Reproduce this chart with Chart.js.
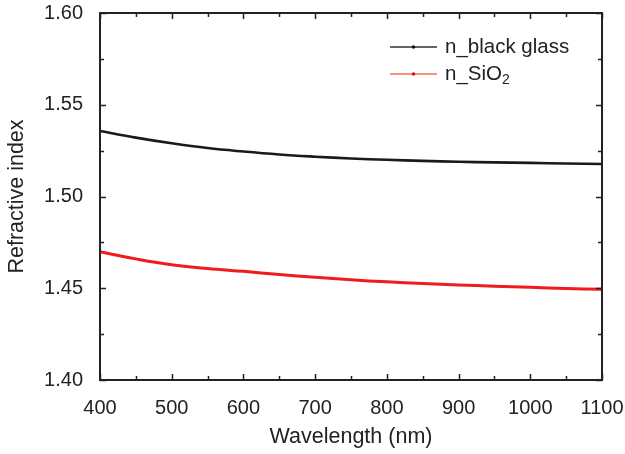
<!DOCTYPE html>
<html>
<head>
<meta charset="utf-8">
<script src="https://cdn.jsdelivr.net/npm/chart.js@4"></script>
<style>
  html, body { margin: 0; padding: 0; background: #fff; }
  #wrap { width: 625px; height: 454px; }
</style>
</head>
<body>
<div id="wrap"><canvas id="chart" width="625" height="454"></canvas></div>
<script>
// data
const wavelength = [400, 450, 500, 550, 600, 650, 700, 750, 800, 850, 900, 950, 1000, 1050, 1100];
const nBlackGlass = [1.5357, 1.5321, 1.5290, 1.5264, 1.5245, 1.5229, 1.5217, 1.5207, 1.5200, 1.5194, 1.5189, 1.5186, 1.5183, 1.5180, 1.5177];
const nSiO2 = [1.4699, 1.4660, 1.4628, 1.4608, 1.4592, 1.4575, 1.4560, 1.4546, 1.4535, 1.4526, 1.4518, 1.4511, 1.4505, 1.4499, 1.4494];
const xTicks = [400, 500, 600, 700, 800, 900, 1000, 1100];
const yTicks = [1.40, 1.45, 1.50, 1.55, 1.60];

const FONT = 'Liberation Sans, Arial, sans-serif';
Chart.defaults.font.family = FONT;
Chart.defaults.color = '#222';

function pts(ys) {
    return wavelength.map((x, i) => ({x: x, y: ys[i]}));
}

// box frame + inward ticks (major and minor)
const frame = {
    id: 'frame',
    afterDraw(chart) {
        const {ctx, chartArea: a, scales: {x, y}} = chart;
        ctx.save();
        ctx.strokeStyle = '#222';
        ctx.lineWidth = 2;
        ctx.strokeRect(a.left, a.top, a.right - a.left, a.bottom - a.top);
        ctx.lineWidth = 1.5;
        ctx.beginPath();
        for (let v = 400; v <= 1100; v += 50) {
            const px = Math.round(x.getPixelForValue(v)) + 0.5;
            const len = v % 100 === 0 ? 6 : 4;
            ctx.moveTo(px, a.bottom); ctx.lineTo(px, a.bottom - len);
            ctx.moveTo(px, a.top); ctx.lineTo(px, a.top + len);
        }
        for (let i = 0; i <= 8; i++) {
            const v = 1.40 + i * 0.025;
            const py = Math.round(y.getPixelForValue(v)) + 0.5;
            const len = i % 2 === 0 ? 6 : 4;
            ctx.moveTo(a.left, py); ctx.lineTo(a.left + len, py);
            ctx.moveTo(a.right, py); ctx.lineTo(a.right - len, py);
        }
        ctx.stroke();
        ctx.restore();
    }
};

// legend inside the plot area
const innerLegend = {
    id: 'innerLegend',
    afterDraw(chart) {
        const ctx = chart.ctx;
        const items = [
            {line: '#666', dot: '#111', y: 47, parts: [['n_black glass', 0]]},
            {line: '#f59282', dot: '#e01010', y: 74, parts: [['n_SiO', 0], ['2', 1]]}
        ];
        ctx.save();
        items.forEach(it => {
            ctx.strokeStyle = it.line;
            ctx.lineWidth = 2;
            ctx.beginPath();
            ctx.moveTo(390, it.y); ctx.lineTo(437, it.y);
            ctx.stroke();
            ctx.fillStyle = it.dot;
            ctx.beginPath();
            ctx.arc(413.5, it.y, 1.8, 0, Math.PI * 2);
            ctx.fill();
            ctx.fillStyle = '#222';
            ctx.textBaseline = 'middle';
            let tx = 445;
            it.parts.forEach(([t, sub]) => {
                ctx.font = (sub ? 14 : 20.5) + 'px ' + FONT;
                ctx.fillText(t, tx, it.y + (sub ? 6 : 0));
                tx += ctx.measureText(t).width;
            });
        });
        ctx.restore();
    }
};

new Chart(document.getElementById('chart'), {
    type: 'line',
    data: {
        datasets: [
            {label: 'n_black glass', data: pts(nBlackGlass), borderColor: '#1a1a1a', borderWidth: 2.6, pointRadius: 0, tension: 0.4},
            {label: 'n_SiO₂', data: pts(nSiO2), borderColor: '#ee1c1c', borderWidth: 3, pointRadius: 0, tension: 0.4}
        ]
    },
    options: {
        responsive: false,
        animation: false,
        layout: {padding: {top: 13, right: 23, left: 0, bottom: 0}},
        plugins: {legend: {display: false}, tooltip: {enabled: false}},
        scales: {
            x: {
                type: 'linear', min: 400, max: 1100,
                afterBuildTicks: s => { s.ticks = xTicks.map(v => ({value: v})); },
                afterFit: s => { s.height = 74; s.paddingLeft = 0; s.paddingRight = 0; },
                grid: {display: false},
                border: {display: false},
                ticks: {font: {size: 20}, color: '#222', padding: 8, maxRotation: 0, callback: v => String(v)},
                title: {display: true, text: 'Wavelength (nm)', font: {size: 21.5}, color: '#222', padding: {top: 5}}
            },
            y: {
                min: 1.40, max: 1.60,
                afterBuildTicks: s => { s.ticks = yTicks.map(v => ({value: v})); },
                afterFit: s => { s.width = 100; s.paddingTop = 0; s.paddingBottom = 0; },
                grid: {display: false},
                border: {display: false},
                ticks: {font: {size: 20}, color: '#222', padding: 9, callback: v => v.toFixed(2)},
                title: {display: true, text: 'Refractive index', font: {size: 21.5}, color: '#222', padding: {bottom: 2}}
            }
        }
    },
    plugins: [frame, innerLegend]
});
</script>
</body>
</html>
